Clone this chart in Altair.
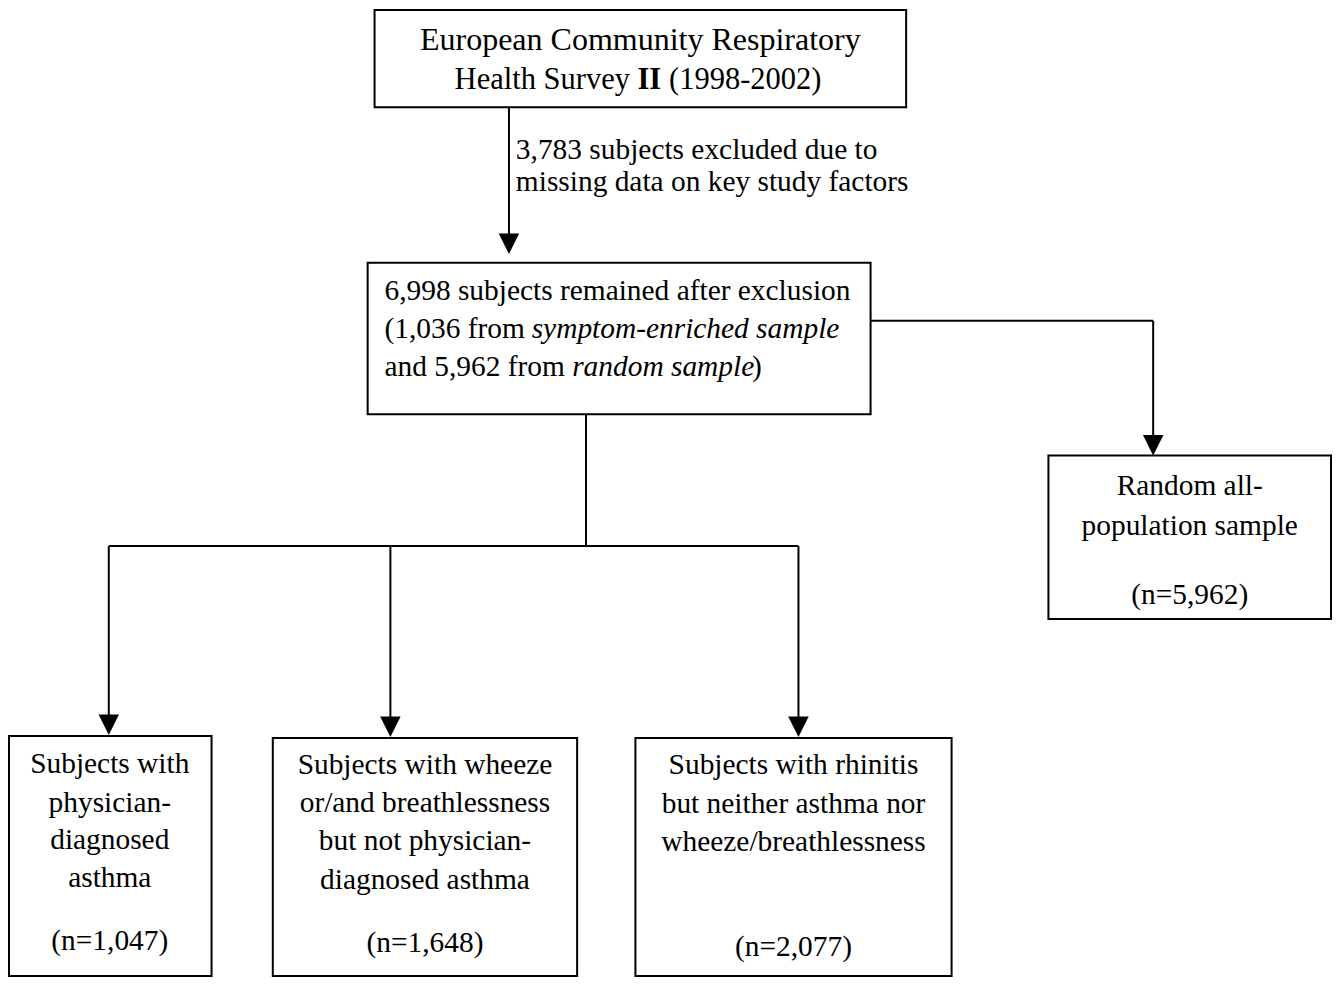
import altair as alt
import pandas as pd

# ---- boxes (reference pixel coordinates) ----
box_x1 = [371, 364, 1053, 1, 268, 635]
box_x2 = [909, 873, 1339, 206, 576, 955]
box_y1 = [2, 259, 455, 740, 742, 742]
box_y2 = [101, 413, 621, 984, 984, 984]

# ---- connector segments ----
seg_x1 = [507, 873, 1159, 585, 102, 102, 387, 800]
seg_y1 = [101, 318, 318, 413, 547, 547, 547, 547]
seg_x2 = [507, 1159, 1159, 585, 800, 102, 387, 800]
seg_y2 = [234, 318, 440, 547, 547, 722, 724, 724]

# ---- arrow tips ----
arrow_x = [507, 1159, 102, 387, 800]
arrow_y = [250, 455, 739, 741, 741]

# ---- text runs ----
txt_label = [
    "European Community Respiratory",
    "Health Survey", "II", "(1998-2002)",
    "3,783 subjects excluded due to",
    "missing data on key study factors",
    "6,998 subjects remained after exclusion",
    "(1,036 from", "symptom-enriched sample",
    "and 5,962 from", "random sample", ")",
    "Random all-", "population sample", "(n=5,962)",
    "Subjects with", "physician-", "diagnosed", "asthma", "(n=1,047)",
    "Subjects with wheeze", "or/and breathlessness", "but not physician-",
    "diagnosed asthma", "(n=1,648)",
    "Subjects with rhinitis", "but neither asthma nor", "wheeze/breathlessness",
    "(n=2,077)",
]
txt_x = [
    640,
    452, 637, 669,
    514, 514,
    381,
    381, 530,
    381, 571, 753,
    1196, 1196, 1196,
    103, 103, 103, 103, 103,
    422, 422, 422, 422, 422,
    795, 795, 795, 795,
]
txt_y = [
    33,
    73, 73, 73,
    144, 177,
    288,
    326, 326,
    365, 365, 365,
    486, 527, 597,
    768, 808, 846, 884, 948,
    770, 808, 847, 886, 950,
    770, 809, 848, 955,
]
txt_kind = [
    "title",
    "sub", "subbold", "sub",
    "left", "left",
    "left",
    "left", "italic",
    "left", "italic", "left",
    "center", "center", "center",
    "center", "center", "center", "center", "center",
    "center", "center", "center", "center", "center",
    "center", "center", "center", "center",
]

W, H = 1324, 969
FONT = "Liberation Serif"

xs = alt.Scale(domain=[0, 1340], nice=False, zero=False)
ys = alt.Scale(domain=[0, 985], nice=False, zero=False, reverse=True)

boxes = pd.DataFrame({"x1": box_x1, "x2": box_x2, "y1": box_y1, "y2": box_y2})
segs = pd.DataFrame({"x1": seg_x1, "x2": seg_x2, "y1": seg_y1, "y2": seg_y2})
arrows = pd.DataFrame({"x": arrow_x, "y": arrow_y})
texts = pd.DataFrame({"label": txt_label, "x": txt_x, "y": txt_y, "kind": txt_kind})

rects = alt.Chart(boxes).mark_rect(fill="white", stroke="black", strokeWidth=2).encode(
    x=alt.X("x1:Q", scale=xs, axis=None),
    x2="x2:Q",
    y=alt.Y("y1:Q", scale=ys, axis=None),
    y2="y2:Q",
)

rules = alt.Chart(segs).mark_rule(color="black", strokeWidth=2).encode(
    x=alt.X("x1:Q", scale=xs, axis=None),
    x2="x2:Q",
    y=alt.Y("y1:Q", scale=ys, axis=None),
    y2="y2:Q",
)

heads = alt.Chart(arrows).mark_point(
    shape="M-1,-2L1,-2L0,0Z", filled=True, color="black", size=420, opacity=1
).encode(
    x=alt.X("x:Q", scale=xs, axis=None),
    y=alt.Y("y:Q", scale=ys, axis=None),
)


def text_layer(kind, align, size, style="normal", weight="normal"):
    return alt.Chart(texts).transform_filter(alt.datum.kind == kind).mark_text(
        font=FONT, fontSize=size, align=align, baseline="middle",
        fontStyle=style, fontWeight=weight, color="black",
    ).encode(
        x=alt.X("x:Q", scale=xs, axis=None),
        y=alt.Y("y:Q", scale=ys, axis=None),
        text="label:N",
    )


t_title = text_layer("title", "center", 32)
t_sub = text_layer("sub", "left", 30.5)
t_subbold = text_layer("subbold", "left", 30.5, weight="bold")
t_center = text_layer("center", "center", 29.4)
t_left = text_layer("left", "left", 29.4)
t_italic = text_layer("italic", "left", 29.4, style="italic")

chart = alt.layer(
    rects, rules, heads, t_title, t_sub, t_subbold, t_center, t_left, t_italic
).properties(
    width=W, height=H, padding=0, background="white",
    autosize=alt.AutoSizeParams(type="none"),
).configure_view(stroke=None)

chart.save("out.html", embed_options={"renderer": "svg", "actions": False})
